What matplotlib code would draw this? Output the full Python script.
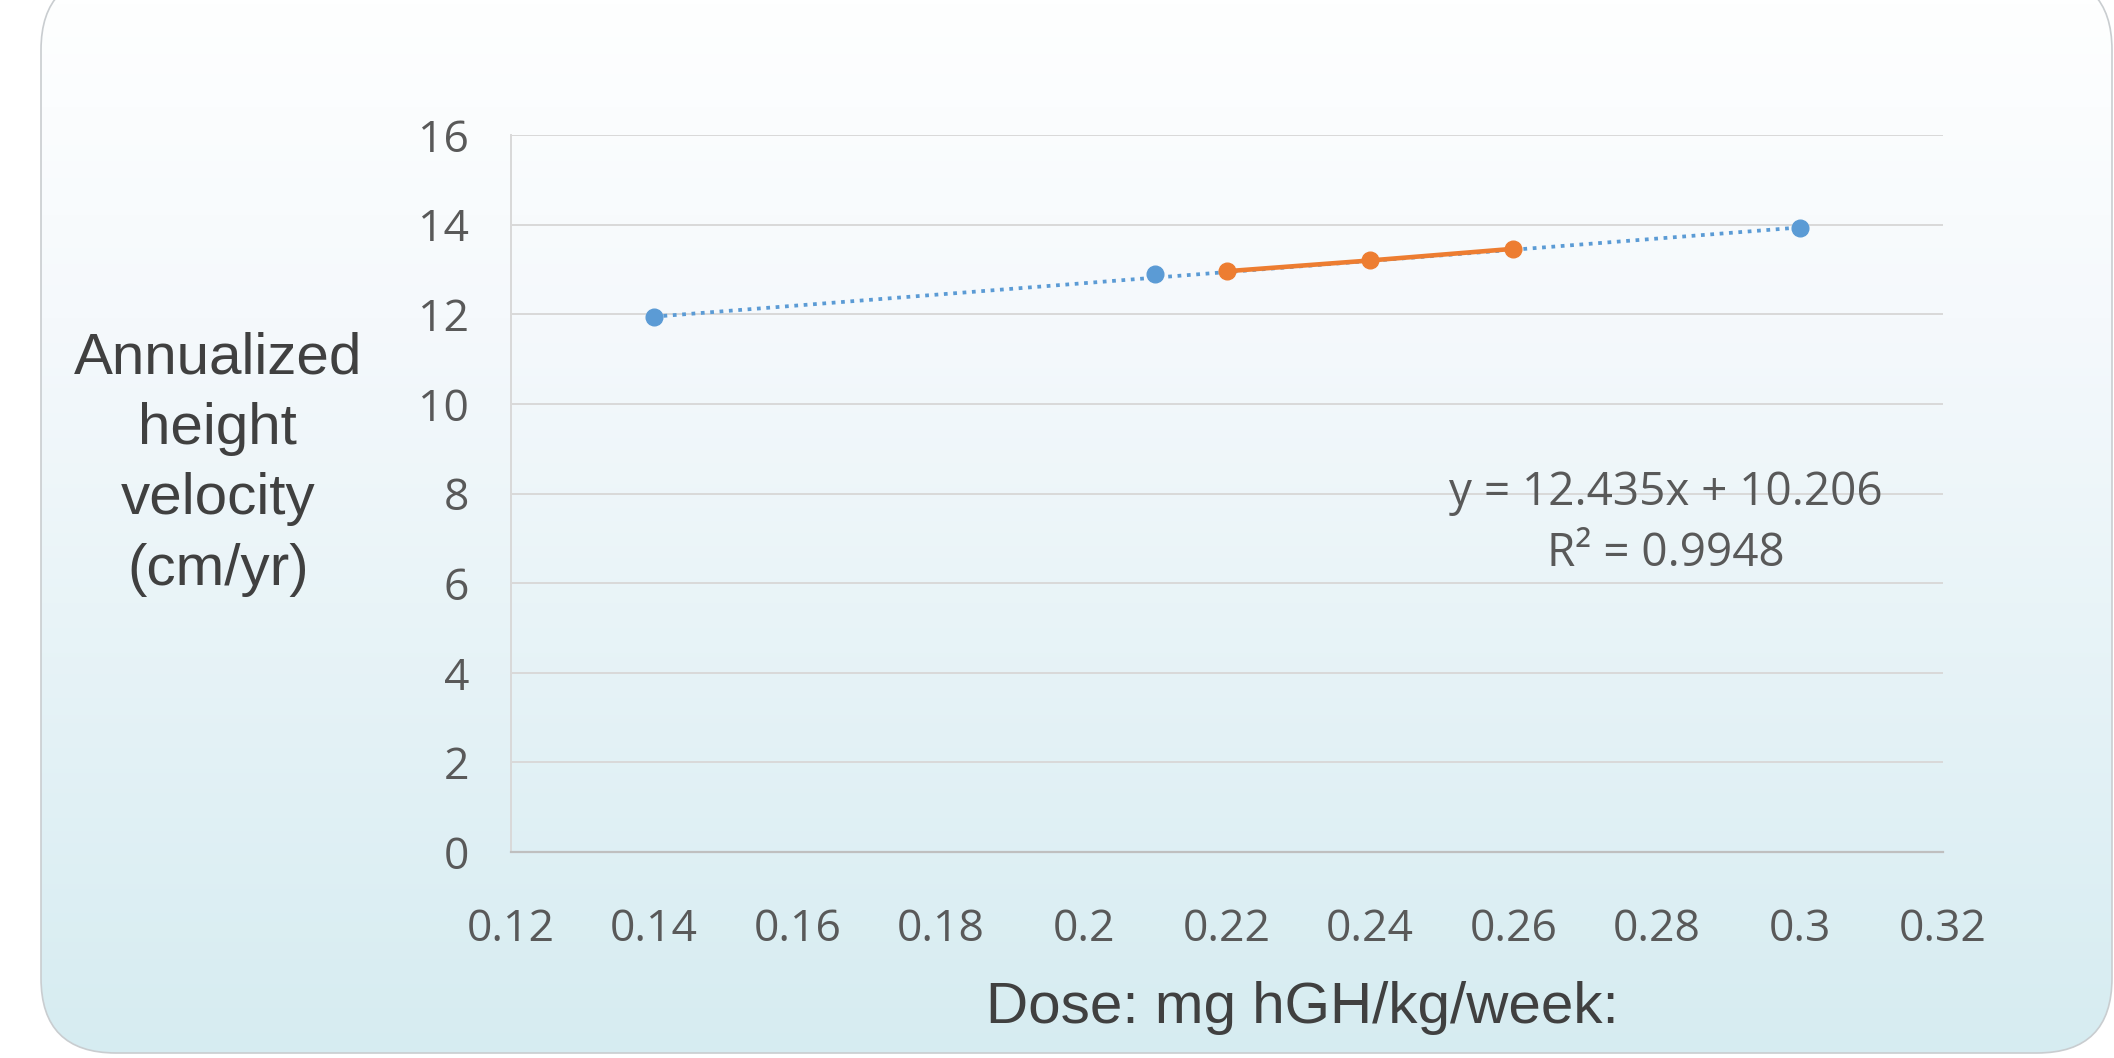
import numpy as np
import matplotlib
matplotlib.use("Agg")
import matplotlib.pyplot as plt
from matplotlib.patches import FancyBboxPatch
from matplotlib.colors import LinearSegmentedColormap

# ---- data ----
blue_x = [0.14, 0.21, 0.30]
blue_y = [11.94, 12.90, 13.92]
orange_x = [0.22, 0.24, 0.26]
orange_y = [12.96, 13.20, 13.46]
trend_slope = 12.435
trend_intercept = 10.206
trend_range = [0.14, 0.30]
x_ticks = [0.12, 0.14, 0.16, 0.18, 0.20, 0.22, 0.24, 0.26, 0.28, 0.30, 0.32]
x_tick_labels = ["0.12", "0.14", "0.16", "0.18", "0.2", "0.22", "0.24", "0.26", "0.28", "0.3", "0.32"]
y_ticks = [0, 2, 4, 6, 8, 10, 12, 14, 16]
y_label = "Annualized\nheight\nvelocity\n(cm/yr)"
x_label = "Dose: mg hGH/kg/week:"
eq_text = "y = 12.435x + 10.206\nR\u00b2 = 0.9948"

W, H = 2114, 1058
fig = plt.figure(figsize=(W / 100, H / 100), dpi=100)
fig.patch.set_facecolor("white")

# ---- background rounded gradient box ----
bg = fig.add_axes([0, 0, 1, 1])
bg.set_xlim(0, W)
bg.set_ylim(H, 0)
bg.axis("off")
cmap = LinearSegmentedColormap.from_list(
    "bgc", [(0.0, "#feffff"), (0.3, "#f5f9fc"), (1.0, "#d6ecf1")])
grad = np.linspace(0, 1, 256).reshape(-1, 1)
im = bg.imshow(grad, cmap=cmap, aspect="auto", extent=[0, W, H, 0], zorder=0)
bx0, by0, bx1, by1 = 41, -25, 2112, 1053
box = FancyBboxPatch((bx0, by0), bx1 - bx0, by1 - by0,
                     boxstyle="round,pad=0,rounding_size=75", transform=bg.transData,
                     facecolor="none", edgecolor="#c9cdd0", lw=1.2, zorder=1)
bg.add_patch(box)
im.set_clip_path(box)

# ---- main axes ----
ax = fig.add_axes([0.2417, 0.1947, 0.919 - 0.2417, 0.8724 - 0.1947])
ax.set_facecolor("none")
ax.set_xlim(0.12, 0.32)
ax.set_ylim(0, 16)
ax.set_xticks(x_ticks)
ax.set_xticklabels(x_tick_labels)
ax.set_yticks(y_ticks)
ax.grid(axis="y", color="#d9d9d9", lw=1.4, zorder=0)
ax.set_axisbelow(True)
for s in ["top", "right"]:
    ax.spines[s].set_visible(False)
ax.spines["left"].set_color("#d9d9d9")
ax.spines["left"].set_linewidth(1.4)
ax.spines["bottom"].set_color("#bfbfbf")
ax.spines["bottom"].set_linewidth(1.6)
ax.tick_params(axis="both", length=0, labelsize=32, labelcolor="#595959")
ax.tick_params(axis="y", pad=30)
ax.tick_params(axis="x", pad=40)
for lab in ax.get_xticklabels() + ax.get_yticklabels():
    lab.set_fontfamily("Open Sans")

tx = np.array(trend_range)
ax.plot(tx, trend_slope * tx + trend_intercept, color="#5b9bd5", lw=2.7,
        linestyle=(0, (1.0, 1.5)), zorder=2)
ax.plot(blue_x, blue_y, "o", color="#5b9bd5", markersize=12, zorder=4)
ax.plot(orange_x, orange_y, "-o", color="#ed7d31", lw=3.3, markersize=12, zorder=3)

fig.text(0.788, 0.505, eq_text, ha="center", va="center", fontsize=33,
         color="#595959", family="Open Sans", linespacing=1.42)

fig.text(0.103, 0.5614, y_label, ha="center", va="center", fontsize=42,
         color="#404040", family="Liberation Sans", linespacing=1.39)
fig.text(0.616, 0.047, x_label, ha="center", va="center", fontsize=42,
         color="#404040", family="Liberation Sans")

fig.savefig("out.png", dpi=100)
